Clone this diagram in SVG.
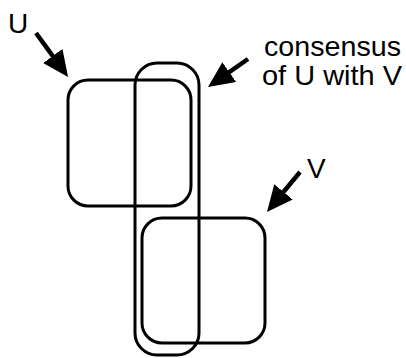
<svg xmlns="http://www.w3.org/2000/svg" width="406" height="358" viewBox="0 0 406 358">
<defs>
<style>
.box{fill:none;stroke:#000;stroke-width:3}
.arr{stroke:#000;stroke-width:4.5;fill:none;marker-end:url(#ah)}
.lbl{font-family:"Liberation Sans",Arial,sans-serif;font-size:28px;fill:#000}
</style>
<marker id="ah" viewBox="0 0 26 24" refX="14" refY="12" markerWidth="26" markerHeight="24" markerUnits="userSpaceOnUse" orient="auto">
<path d="M0,0 L26,12 L0,24 Z" fill="#000"/>
</marker>
</defs>
<rect width="406" height="358" fill="#fff"/>
<g id="U"><rect class="box" x="68" y="80" width="123" height="126" rx="20"/></g>
<g id="consensus"><rect class="box" x="135" y="63" width="64" height="292" rx="22"/></g>
<g id="V"><rect class="box" x="142" y="218" width="123" height="125" rx="20"/></g>
<g id="connectors">
<line class="arr" x1="36" y1="33" x2="61" y2="67.3"/>
<line class="arr" x1="248" y1="59" x2="217.8" y2="80.1"/>
<line class="arr" x1="300" y1="172" x2="274.6" y2="202.7"/>
</g>
<g id="labels">
<text class="lbl" x="8" y="33">U</text>
<text class="lbl" x="264" y="56" textLength="137" lengthAdjust="spacingAndGlyphs">consensus</text>
<text class="lbl" x="262" y="85" textLength="140" lengthAdjust="spacingAndGlyphs">of U with V</text>
<text class="lbl" x="307" y="178">V</text>
</g>
</svg>
